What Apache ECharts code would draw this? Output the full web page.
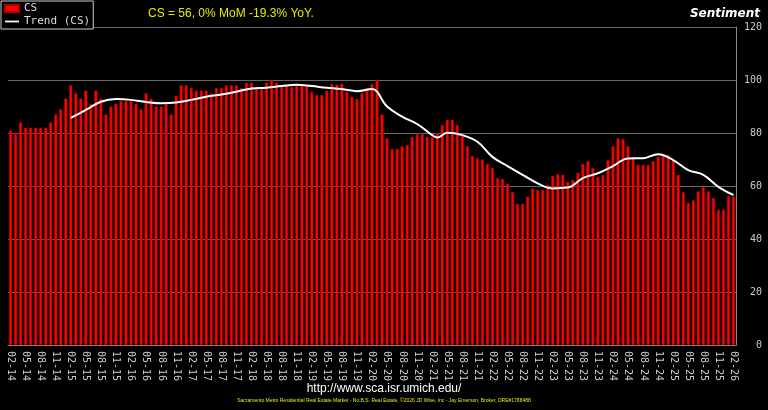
<!DOCTYPE html>
<html>
<head>
<meta charset="utf-8">
<script src="https://cdn.jsdelivr.net/npm/echarts@6/dist/echarts.min.js"></script>
<style>
  html, body { margin: 0; padding: 0; background: #000; }
  #chart { width: 768px; height: 410px; }
</style>
</head>
<body>
<div id="chart"></div>
<script>
// monthly categories 02-14 .. 02-26
var months = [];
for (var y = 14; y <= 26; y++) {
    for (var m = 1; m <= 12; m++) {
        if ((y === 14 && m < 2) || (y === 26 && m > 2)) continue;
        months.push((m < 10 ? '0' + m : '' + m) + '-' + y);
    }
}

// consumer sentiment
var csValues = [
    81, 80, 84, 82, 82, 82, 82, 82, 84, 87, 89, 93, 98,
    95, 93, 96, 91, 96, 93, 87, 90, 91, 92, 92, 92,
    91, 89, 95, 93, 90, 90, 91, 87, 94, 98, 98, 97,
    96, 96, 96, 95, 97, 97, 98, 98, 98, 97, 99, 99,
    97, 97, 99, 100, 99, 98, 97.7, 97.4, 98, 98, 98, 95.5,
    94.3, 94.3, 96, 98.5, 98.3, 98.6, 95.5, 93.6, 92.8, 95, 97, 98.5,
    100, 87, 78, 74, 74, 75, 75.5, 78.5, 79.6, 79.6, 78.5, 78.5,
    80, 83, 85, 85, 83, 79, 75, 71.4, 70.5, 70, 68.3, 66.8,
    63, 62.6, 60.8, 57.7, 53.2, 53.2, 56, 59, 58.5, 58.5, 60.4, 63.8,
    64.5, 64.2, 61.5, 62.3, 65, 68.3, 69.4, 66.8, 63.4, 64.2, 69.8, 75,
    78, 77.7, 75, 71, 68, 67.9, 68, 69.4, 71, 71.4, 71.7, 69.8,
    64.2, 57.7, 53.6, 54.7, 58, 59.6, 58, 55.5, 51, 51, 56.2, 56
];

// trend line, read at quarterly points (null between)
var trendPoints = {
    12: 85.7, 15: 88.7, 18: 91.8, 21: 92.8, 24: 92.5, 27: 91.7, 30: 91.2, 33: 91.5,
    36: 92.5, 39: 93.7, 42: 94.5, 45: 95.6, 48: 96.8, 51: 97.1, 54: 97.7, 57: 98.2,
    60: 97.7, 63: 97.1, 66: 96.6, 69: 95.8, 72: 96.6, 75: 90, 78: 86.2, 81: 83.4,
    84: 79.2, 85: 78.3, 87: 80.1, 90: 79.2, 93: 76.7, 96: 71, 99: 67.5, 102: 64.2,
    105: 61, 108: 59.1, 111: 59.4, 114: 63, 117: 64.8, 120: 67.5, 123: 70.4,
    126: 70.5, 129: 72, 132: 69.8, 135: 66, 138: 64.2, 141: 59.7, 144: 56.6
};
var trendValues = months.map(function (d, i) {
    return trendPoints[i] !== undefined ? trendPoints[i] : null;
});

var chart = echarts.init(document.getElementById('chart'));
var mono = 'DejaVu Sans Mono';

chart.setOption({
    backgroundColor: '#000',
    animation: false,
    grid: { left: 8, right: 32, top: 27, bottom: 65 },
    legend: {
        left: 1, top: 1,
        orient: 'vertical',
        itemGap: 2,
        padding: [2, 3, 2, 3],
        borderColor: '#ccc', borderWidth: 1,
        backgroundColor: '#000',
        itemWidth: 14, itemHeight: 7,
        textStyle: { color: '#ddd', fontFamily: mono, fontSize: 11 },
        data: [
            { name: 'CS', icon: 'rect' },
            { name: 'Trend (CS)', icon: 'path://M0,4 L16,4 L16,6 L0,6 Z' }
        ]
    },
    graphic: [
        { type: 'text', left: 148, top: 8,
          style: { text: 'CS = 56, 0% MoM -19.3% YoY.', fill: '#e8e800', font: '12px Liberation Sans' } },
        { type: 'text', right: 8, top: 8,
          style: { text: 'Sentiment', fill: '#fff', font: 'italic bold 12px DejaVu Sans' } },
        { type: 'text', left: 'center', top: 383,
          style: { text: 'http://www.sca.isr.umich.edu/', fill: '#fff', font: '12px Liberation Sans' } },
        { type: 'text', left: 'center', top: 398,
          style: { text: 'Sacramento Metro Residential Real Estate Market - No.B.S. Real Estate, \u00a92026 JD Wise, Inc - Jay Emerson, Broker, DRE#1788488',
                   fill: '#e8e800', font: '5px Liberation Sans' } }
    ],
    xAxis: {
        type: 'category',
        data: months,
        boundaryGap: true,
        axisLine: { lineStyle: { color: '#888' } },
        axisTick: { show: false },
        axisLabel: {
            interval: 2, rotate: -90, color: '#ccc',
            fontFamily: mono, fontSize: 10, margin: 6
        }
    },
    yAxis: {
        type: 'value',
        position: 'right',
        min: 0, max: 120, interval: 20,
        axisLine: { show: true, lineStyle: { color: '#888' } },
        axisTick: { show: false },
        splitLine: { lineStyle: { color: '#666' } },
        axisLabel: { color: '#ccc', fontFamily: mono, fontSize: 10, margin: 26, align: 'right' }
    },
    series: [
        {
            name: 'CS', type: 'bar',
            data: csValues,
            barWidth: 3,
            itemStyle: { color: '#ff0000', borderColor: '#b00000', borderWidth: 0.5 }
        },
        {
            name: 'Trend (CS)', type: 'line',
            data: trendValues,
            connectNulls: true, smooth: 0.4,
            symbol: 'none',
            itemStyle: { color: '#fff' },
            lineStyle: { color: '#fff', width: 2 }
        }
    ]
});
</script>
</body>
</html>
